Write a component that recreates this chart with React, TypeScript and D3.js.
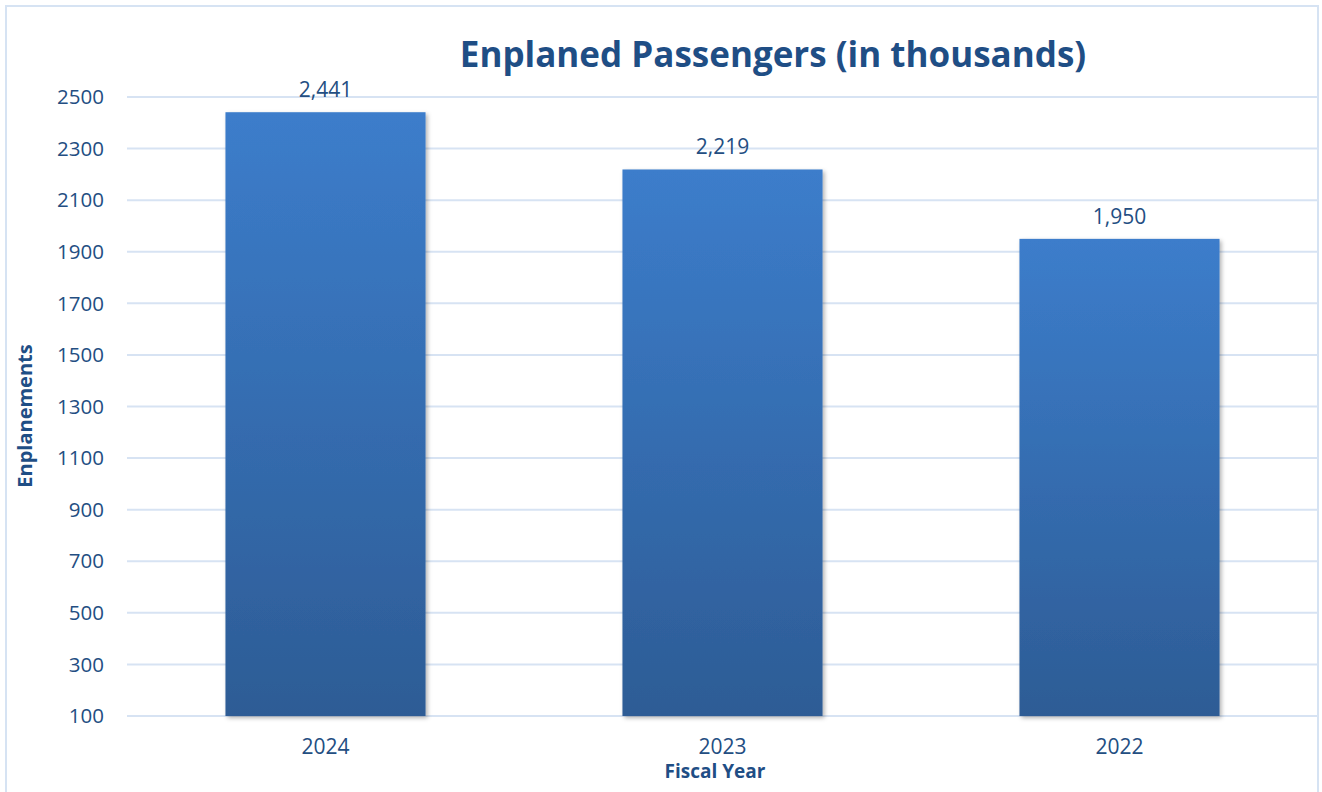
import React from "react";
import * as d3 from "d3";

const categories = ["2024", "2023", "2022"];
const values = [2441, 2219, 1950];
const yTicks = [100, 300, 500, 700, 900, 1100, 1300, 1500, 1700, 1900, 2100, 2300, 2500];

const W = 1322;
const H = 792;
const left = 127;
const right = 1318;
const top = 97;
const bottom = 716;
const textColor = "#234E82";
const font = "'Open Sans', sans-serif";

export default function App() {
  const x = d3.scaleBand<string>().domain(categories).range([left, right]).paddingInner(0.496).paddingOuter(0.248);
  const y = d3.scaleLinear().domain([100, 2500]).range([bottom, top]);
  const fmt = d3.format(",");
  return (
    <svg width={W} height={H} style={{ position: "absolute", left: 0, top: 0, background: "#fff" }}>
      <defs>
        <linearGradient id="barGrad" x1="0" y1="0" x2="0" y2="1">
          <stop offset="0%" stopColor="#3C7DCB" />
          <stop offset="100%" stopColor="#2D5C95" />
        </linearGradient>
        <filter id="shadow" x="-10%" y="-10%" width="130%" height="130%">
          <feDropShadow dx="2" dy="2" stdDeviation="2" floodColor="#000" floodOpacity="0.3" />
        </filter>
      </defs>
      <rect x={6} y={6} width={1312} height={800} fill="#fff" stroke="#D6E3F3" strokeWidth={2} />
      {yTicks.map((t) => (
        <g key={t}>
          <line x1={left} x2={right} y1={y(t)} y2={y(t)} stroke="#D7E3F3" strokeWidth={2} />
          <text x={104} y={y(t)} dy="0.35em" textAnchor="end" fontFamily={font} fontSize={20.5} fill={textColor}>
            {t}
          </text>
        </g>
      ))}
      {categories.map((c, i) => (
        <g key={c}>
          <rect
            x={x(c)}
            y={y(values[i])}
            width={x.bandwidth()}
            height={y(100) - y(values[i])}
            fill="url(#barGrad)"
            filter="url(#shadow)"
          />
          <text x={x(c)! + x.bandwidth() / 2} y={y(values[i]) - 15} textAnchor="middle" fontFamily={font} fontSize={21} fill={textColor}>
            {fmt(values[i])}
          </text>
          <text x={x(c)! + x.bandwidth() / 2} y={754} textAnchor="middle" fontFamily={font} fontSize={21} fill={textColor}>
            {c}
          </text>
        </g>
      ))}
      <text x={773} y={67} textAnchor="middle" fontFamily={font} fontWeight="bold" fontSize={35} fill="#1F4E85">
        Enplaned Passengers (in thousands)
      </text>
      <text x={715} y={778} textAnchor="middle" fontFamily={font} fontWeight="bold" fontSize={19} fill="#1F4E85">
        Fiscal Year
      </text>
      <text transform={`translate(32,416) rotate(-90)`} textAnchor="middle" fontFamily={font} fontWeight="bold" fontSize={20} fill="#1F4E85">
        Enplanements
      </text>
    </svg>
  );
}
